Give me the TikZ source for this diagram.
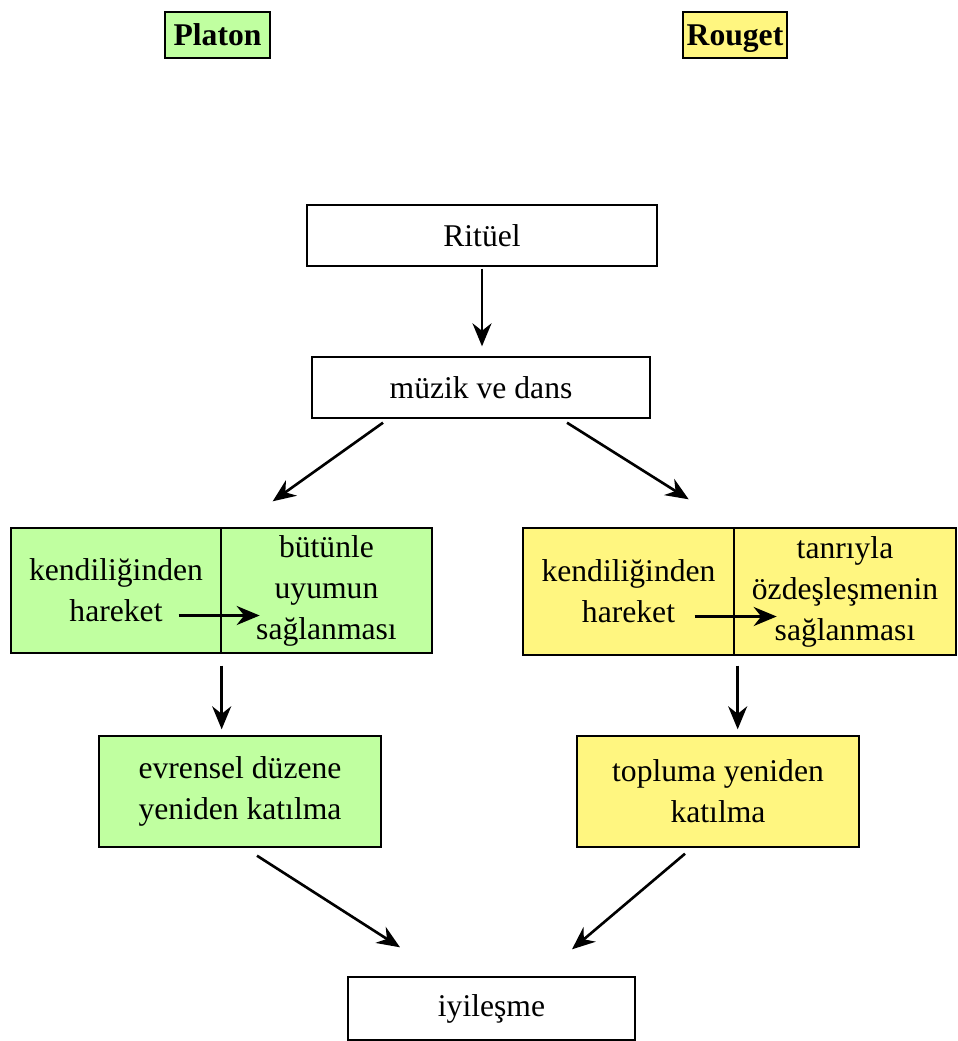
\documentclass[tikz,border=0pt]{standalone}
\usepackage{fontspec}
\setmainfont{Liberation Serif}
\usetikzlibrary{arrows.meta, positioning}
\definecolor{platongreen}{RGB}{192,255,160}
\definecolor{rougetyellow}{RGB}{255,246,128}

\begin{document}
\begin{tikzpicture}[x=0.02cm, y=-0.02cm,
    box/.style={draw, line width=0.8pt, align=center, inner sep=0pt,
                font=\fontsize{18}{23.3}\selectfont},
    title/.style={box, line width=1.2pt, text height=15pt, text depth=3pt,
                  font=\fontsize{18}{22.7}\selectfont\bfseries},
    arr/.style={-{Stealth[length=0.46cm, width=0.38cm]}, line width=1.5pt}]
    \useasboundingbox (0,0) rectangle (957,1041);
    % baslik kutulari
    \node[title, fill=platongreen, minimum width=2.1cm, minimum height=0.92cm] (platon) at (217.5,35) {Platon};
    \node[title, fill=rougetyellow, minimum width=2.08cm, minimum height=0.92cm] (rouget) at (735,35) {Rouget};
    % ana akis
    \node[box, minimum width=7cm, minimum height=1.22cm] (ritual) at (482,235.5) {Ritüel};
    \node[box, minimum width=6.76cm, minimum height=1.22cm] (muzik) at (481,387.5) {müzik ve dans};
    % Platon kolu
    \node[box, fill=platongreen, minimum width=4.2cm, minimum height=2.5cm] (kendL) at (116,590.5) {kendiliğinden\\hareket};
    \node[box, fill=platongreen, minimum width=4.22cm, minimum height=2.5cm] (butunle) at (326.5,590.5) {bütünle\\uyumun\\sağlanması};
    \node[box, fill=platongreen, minimum width=5.64cm, minimum height=2.22cm] (evrensel) at (240,791.5) {evrensel düzene\\yeniden katılma};
    % Rouget kolu
    \node[box, fill=rougetyellow, minimum width=4.22cm, minimum height=2.54cm] (kendR) at (628.5,591.5) {kendiliğinden\\hareket};
    \node[box, fill=rougetyellow, minimum width=4.44cm, minimum height=2.54cm] (tanri) at (845,591.5) {tanrıyla\\özdeşleşmenin\\sağlanması};
    \node[box, fill=rougetyellow, minimum width=5.64cm, minimum height=2.22cm] (topluma) at (718,791.5) {topluma yeniden\\katılma};
    % sonuc
    \node[box, minimum width=5.74cm, minimum height=1.26cm] (iyi) at (491.5,1008.5) {iyileşme};

    \draw[arr, shorten <=0.04cm, shorten >=0.2cm] (ritual.south) -- (ritual.south |- muzik.north);
    \draw[arr] ([shift={(-98,4)}]muzik.south) -- ([shift={(51,-26)}]kendL.north east);
    \draw[arr] ([shift={(86,4)}]muzik.south) -- ([shift={(-46,-28)}]kendR.north east);
    \draw[arr] ([shift={(-43,25)}]kendL.east) -- ([shift={(38,25)}]kendL.east);
    \draw[arr] ([shift={(-40,25)}]kendR.east) -- ([shift={(42,25)}]kendR.east);
    \draw[arr, shorten <=0.24cm, shorten >=0.12cm] (kendL.south east) -- (kendL.south east |- evrensel.north);
    \draw[arr, shorten <=0.2cm, shorten >=0.12cm] ([shift={(3,0)}]kendR.south east) -- ([shift={(3,0)}]kendR.south east |- topluma.north);
    \draw[arr] ([shift={(17,8)}]evrensel.south) -- ([shift={(-91.5,-29)}]iyi.north);
    \draw[arr] ([shift={(-33,6)}]topluma.south) -- ([shift={(80.5,-27)}]iyi.north);
\end{tikzpicture}
\end{document}
